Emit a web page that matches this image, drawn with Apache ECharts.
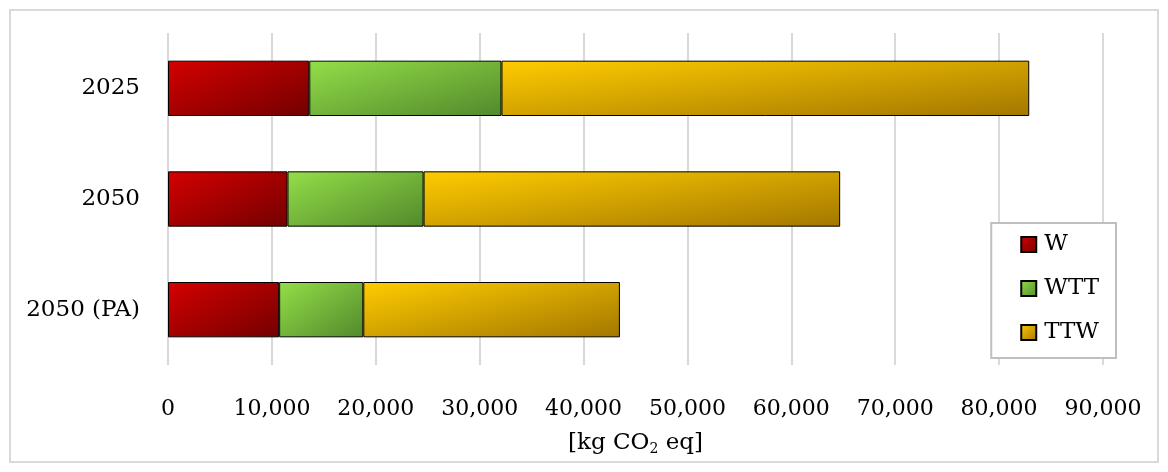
<!DOCTYPE html>
<html style="height: 100%">
<head>
<meta charset="utf-8">
</head>
<body style="height: 100%; margin: 0; background: #fff">
<div id="container" style="width: 1168px; height: 472px"></div>
<script src="https://cdn.jsdelivr.net/npm/echarts@6/dist/echarts.min.js"></script>
<script type="text/javascript">
var categories = ['2025', '2050', '2050 (PA)'];
var wValues = [13600, 11500, 10700];
var wttValues = [18500, 13100, 8100];
var ttwValues = [50800, 40100, 24700];
var xTicks = [0, 10000, 20000, 30000, 40000, 50000, 60000, 70000, 80000, 90000];

var font = 'DejaVu Serif';
var pxPerUnit = 935 / 90000;   // rough plot width / axis span, for the gradient angle only
var barPx = 56;

// excel style diagonal gradient: top-right and bottom-left corners share the mid tone
function diagGrad(c1, c2, w, h) {
    var s = w * w + h * h;
    return new echarts.graphic.LinearGradient(0, 0, 2 * h * h / s, 2 * w * w / s, [
        { offset: 0, color: c1 },
        { offset: 1, color: c2 }
    ]);
}

var palette = {
    W: ['#d40000', '#740000'],
    WTT: ['#94de48', '#528a2c'],
    TTW: ['#ffcc00', '#a47800']
};

var dom = document.getElementById('container');
var myChart = echarts.init(dom);

function barSeries(name, data) {
    var c = palette[name];
    return {
        name: name,
        type: 'bar',
        stack: 'total',
        barWidth: '50%',
        data: data.map(function (v) {
            return { value: v, itemStyle: { color: diagGrad(c[0], c[1], v * pxPerUnit, barPx) } };
        }),
        itemStyle: { color: diagGrad(c[0], c[1], 1, 1), borderColor: '#000', borderWidth: 1 }
    };
}

var option = {
    animation: false,
    textStyle: { fontFamily: font },
    graphic: [{
        type: 'rect',
        shape: { x: 10, y: 10, width: 1148, height: 452 },
        style: { fill: 'none', stroke: '#d9d9d9', lineWidth: 2 },
        silent: true
    }],
    grid: { left: 168, right: 65, top: 33, bottom: 107, containLabel: false },
    legend: {
        orient: 'vertical',
        right: 52,
        top: 223,
        padding: [10, 17, 14, 29],
        itemGap: 21,
        itemWidth: 15,
        itemHeight: 15,
        icon: 'rect',
        backgroundColor: '#fff',
        borderColor: '#bfbfbf',
        borderWidth: 2,
        textStyle: { fontFamily: font, fontSize: 23, color: '#000', lineHeight: 22, padding: [0, 0, 0, 3] },
        data: ['W', 'WTT', 'TTW']
    },
    xAxis: {
        type: 'value',
        min: xTicks[0],
        max: xTicks[xTicks.length - 1],
        interval: 10000,
        axisLine: { show: false },
        axisTick: { show: false },
        splitLine: { lineStyle: { color: '#d9d9d9', width: 2 } },
        axisLabel: {
            margin: 33,
            fontFamily: font,
            fontSize: 22,
            color: '#000',
            formatter: function (v) { return v.toLocaleString('en-US'); }
        },
        name: '{a|[kg CO}{s|2}{a| eq]}',
        nameLocation: 'middle',
        nameGap: 66,
        nameTextStyle: {
            rich: {
                a: { fontFamily: font, fontSize: 23, color: '#000' },
                s: { fontFamily: font, fontSize: 14, color: '#000', verticalAlign: 'bottom', padding: [11, 0, 0, 0] }
            }
        }
    },
    yAxis: {
        type: 'category',
        inverse: true,
        data: categories,
        axisLine: { show: false },
        axisTick: { show: false },
        axisLabel: { margin: 28, fontFamily: font, fontSize: 23, color: '#000' }
    },
    series: [
        barSeries('W', wValues),
        barSeries('WTT', wttValues),
        barSeries('TTW', ttwValues)
    ]
};

myChart.setOption(option);
</script>
</body>
</html>
